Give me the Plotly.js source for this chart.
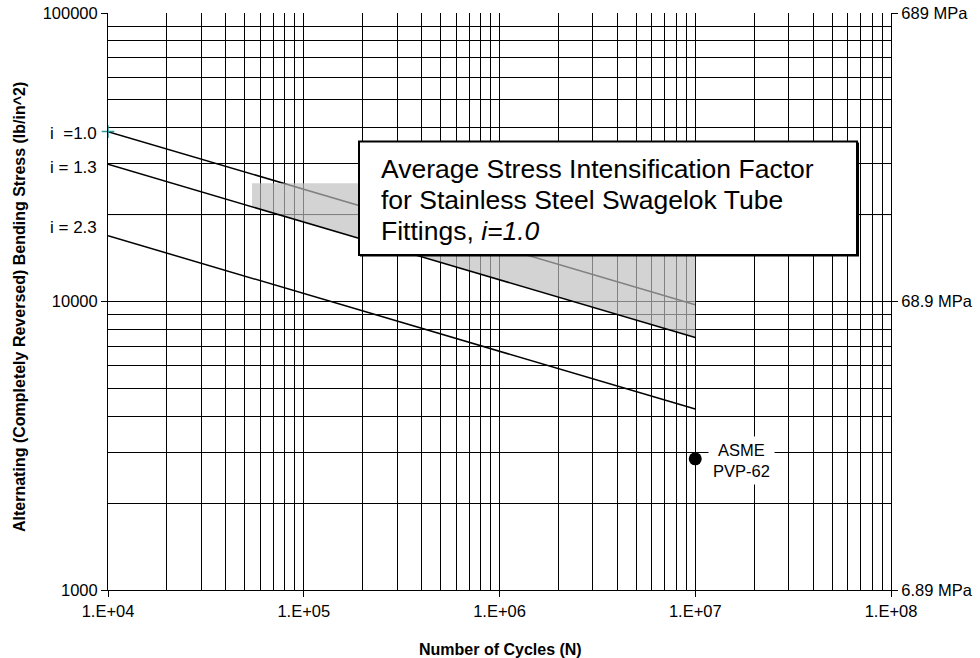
<!DOCTYPE html>
<html>
<head>
<meta charset="utf-8">
<script src="https://cdn.plot.ly/plotly-3.0.1.min.js"></script>
<style>
  html, body { margin: 0; padding: 0; background: #fff; }
  #chart { width: 980px; height: 658px; }
</style>
</head>
<body>
<div id="chart"></div>
<script>
// ---- data ----
const cycles      = [1e4, 1e7];
const stressI10   = [38800, 9750];   // i = 1.0
const stressI13   = [29900, 7500];   // i = 1.3
const stressI23   = [16900, 4240];   // i = 2.3
const bandCycles  = [54400, 1e7, 1e7, 54400];
const bandStress  = [25700, 25700, 7500, 21300];
const asmeCycles  = [1e7];
const asmeStress  = [2850];
const xTickVals   = [1e4, 1e5, 1e6, 1e7, 1e8];
const xTickText   = ['1.E+04', '1.E+05', '1.E+06', '1.E+07', '1.E+08'];
const yTickVals   = [1000, 10000, 100000];
const yTickText   = ['1000', '10000', '100000'];
const mpaTickVals = [6.89, 68.9, 689];
const mpaTickText = ['6.89 MPa', '68.9 MPa', '689 MPa'];
const curveLabels = ['i\u00a0\u00a0=1.0', 'i = 1.3', 'i = 2.3'];
const boxLines    = ['Average Stress Intensification Factor',
                     'for Stainless Steel Swagelok Tube',
                     'Fittings, <i>i=1.0</i>'];

// minor grid positions (2..9 within each decade)
function minorGrid(lo, hi) {
  const v = [];
  for (let d = lo; d < hi; d++) for (let m = 2; m <= 9; m++) v.push(m * Math.pow(10, d));
  return v;
}

const FONT = 'Liberation Sans, Arial, sans-serif';
const px = x => (x - 108) / 783;
const py = y => (590 - y) / 577;

const traces = [
  { x: cycles, y: stressI10, mode: 'lines', line: { color: '#000', width: 1.5 }, hoverinfo: 'skip' },
  { x: cycles, y: stressI23, mode: 'lines', line: { color: '#000', width: 1.5 }, hoverinfo: 'skip' },
  { x: bandCycles, y: bandStress, mode: 'lines', fill: 'toself',
    fillcolor: 'rgba(190,190,190,0.68)', line: { width: 0 }, hoverinfo: 'skip' },
  { x: cycles, y: stressI13, mode: 'lines', line: { color: '#000', width: 1.5 }, hoverinfo: 'skip' },
  { x: [cycles[0]], y: [stressI10[0]], mode: 'markers', cliponaxis: false,
    marker: { symbol: 'cross-thin', size: 9, line: { color: '#2e9a9a', width: 1.5 } }, hoverinfo: 'skip' },
  { x: asmeCycles, y: asmeStress, mode: 'markers', cliponaxis: false,
    marker: { symbol: 'circle', size: 13, color: '#000' }, hoverinfo: 'skip' },
  { x: [xTickVals[0]], y: [mpaTickVals[0]], yaxis: 'y2', mode: 'markers',
    marker: { opacity: 0 }, hoverinfo: 'skip' }
];

const gridBase = { showgrid: true, gridcolor: '#000', gridwidth: 1 };

const annotations = [
  // curve labels at left
  { xref: 'paper', yref: 'paper', x: px(99), y: py(133), xanchor: 'right', yanchor: 'middle',
    text: curveLabels[0], showarrow: false, font: { family: FONT, size: 17, color: '#000' } },
  { xref: 'paper', yref: 'paper', x: px(99), y: py(168), xanchor: 'right', yanchor: 'middle',
    text: curveLabels[1], showarrow: false, font: { family: FONT, size: 17, color: '#000' } },
  { xref: 'paper', yref: 'paper', x: px(99), y: py(227), xanchor: 'right', yanchor: 'middle',
    text: curveLabels[2], showarrow: false, font: { family: FONT, size: 17, color: '#000' } },
  // ASME label
  { xref: 'x', yref: 'y', x: Math.log10(asmeCycles[0]), y: Math.log10(asmeStress[0]),
    xshift: 46, yshift: -2, xanchor: 'center', yanchor: 'middle', showarrow: false,
    text: 'ASME<br>PVP-62', bgcolor: '#fff', borderpad: 4,
    font: { family: FONT, size: 16.5, color: '#000' } },
  // box text
  { xref: 'paper', yref: 'paper', x: px(379), y: py(169), xanchor: 'left', yanchor: 'middle',
    text: boxLines[0], showarrow: false, font: { family: FONT, size: 26.5, color: '#000' } },
  { xref: 'paper', yref: 'paper', x: px(379), y: py(200), xanchor: 'left', yanchor: 'middle',
    text: boxLines[1], showarrow: false, font: { family: FONT, size: 26.5, color: '#000' } },
  { xref: 'paper', yref: 'paper', x: px(379), y: py(231), xanchor: 'left', yanchor: 'middle',
    text: boxLines[2], showarrow: false, font: { family: FONT, size: 26.5, color: '#000' } },
  // axis titles
  { xref: 'paper', yref: 'paper', x: px(20), y: py(307), xanchor: 'center', yanchor: 'middle',
    textangle: -90, showarrow: false,
    text: '<b>Alternating (Completely Reversed) Bending Stress (lb/in^2)</b>',
    font: { family: FONT, size: 16, color: '#000' } },
  { xref: 'paper', yref: 'paper', x: px(500), y: py(649), xanchor: 'center', yanchor: 'middle',
    showarrow: false, text: '<b>Number of Cycles (N)</b>',
    font: { family: FONT, size: 16, color: '#000' } }
];

const shapes = [
  // grey 20000 grid line
  { type: 'line', xref: 'paper', yref: 'y', x0: 0, x1: 1, y0: 20000, y1: 20000,
    line: { color: '#8c8c8c', width: 1 }, layer: 'between' },
  // text box shadow + box
  { type: 'rect', xref: 'paper', yref: 'paper', x0: px(360), x1: px(859), y0: py(256.5), y1: py(142.5),
    fillcolor: '#000', line: { width: 0 }, layer: 'above' },
  { type: 'rect', xref: 'paper', yref: 'paper', x0: px(359), x1: px(857), y0: py(255), y1: py(141.5),
    fillcolor: '#fff', line: { color: '#000', width: 2 }, layer: 'above' }
];

const layout = {
  width: 980, height: 658,
  margin: { l: 108, r: 89, t: 13, b: 68, pad: 0 },
  paper_bgcolor: '#fff', plot_bgcolor: '#fff',
  showlegend: false,
  font: { family: FONT, size: 16.5, color: '#000' },
  xaxis: Object.assign({
    type: 'log', range: [4, 8], tickmode: 'array', tickvals: xTickVals, ticktext: xTickText,
    ticks: 'outside', ticklen: 6, tickwidth: 1, tickcolor: '#000',
    showline: true, linecolor: '#000', linewidth: 1, zeroline: false, mirror: false,
    tickfont: { family: FONT, size: 16.5, color: '#000' },
    minor: { tickmode: 'array', tickvals: minorGrid(4, 8), ticks: '', showgrid: true, gridcolor: '#000', gridwidth: 1 }
  }, gridBase),
  yaxis: Object.assign({
    type: 'log', range: [3, 5], tickmode: 'array', tickvals: yTickVals, ticktext: yTickText,
    ticks: 'outside', ticklen: 6, tickwidth: 1, tickcolor: '#000',
    showline: true, linecolor: '#000', linewidth: 1, zeroline: false,
    tickfont: { family: FONT, size: 16.5, color: '#000' },
    minor: { tickmode: 'array', tickvals: minorGrid(3, 5), ticks: '', showgrid: true, gridcolor: '#000', gridwidth: 1 }
  }, gridBase),
  yaxis2: {
    type: 'log', overlaying: 'y', side: 'right',
    range: [Math.log10(6.89), Math.log10(689)], tickmode: 'array',
    tickvals: mpaTickVals, ticktext: mpaTickText,
    ticks: 'outside', ticklen: 6, tickwidth: 1, tickcolor: '#000',
    showline: true, linecolor: '#000', linewidth: 1, showgrid: false, zeroline: false,
    tickfont: { family: FONT, size: 16.5, color: '#000' }
  },
  annotations: annotations,
  shapes: shapes
};

Plotly.newPlot('chart', traces, layout, { staticPlot: true, displayModeBar: false });
</script>
</body>
</html>
